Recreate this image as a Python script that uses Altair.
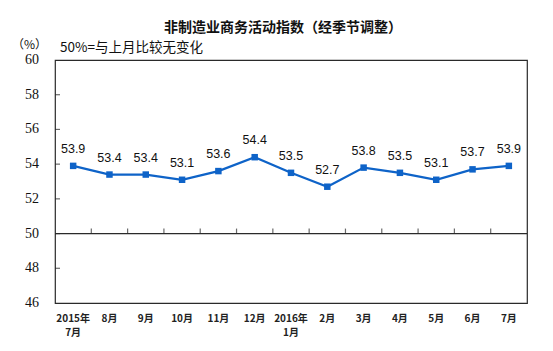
import altair as alt
import pandas as pd

months = ["2015年\n7月", "8月", "9月", "10月", "11月", "12月", "2016年\n1月",
          "2月", "3月", "4月", "5月", "6月", "7月"]
values = [53.9, 53.4, 53.4, 53.1, 53.6, 54.4, 53.5, 52.7, 53.8, 53.5, 53.1, 53.7, 53.9]
y_ticks = [46, 48, 50, 52, 54, 56, 58, 60]
boundaries = list(range(1, 13))

df = pd.DataFrame({"pos": [i + 0.5 for i in range(len(months))],
                   "value": values,
                   "month": months,
                   "label": [f"{v:.1f}" for v in values]})
ylab_df = pd.DataFrame({"y": y_ticks, "t": [str(v) for v in y_ticks]})
tick_df = pd.DataFrame({"y": y_ticks[1:-1]})
bound_df = pd.DataFrame({"b": boundaries})

W, H = 472, 243
BLUE = "#0E63C8"
DARK = "#2a2a2a"

xscale = alt.Scale(domain=[0, 13], nice=False, zero=False)
yscale = alt.Scale(domain=[46, 60], nice=False, zero=False)

base = alt.Chart(df)

line = base.mark_line(color=BLUE, strokeWidth=2.2).encode(
    x=alt.X("pos:Q", scale=xscale, axis=None),
    y=alt.Y("value:Q", scale=yscale, axis=None))
pts = base.mark_square(color=BLUE, size=42, opacity=1).encode(
    x=alt.X("pos:Q", scale=xscale, axis=None), y=alt.Y("value:Q", scale=yscale, axis=None))
txt = base.mark_text(font="Liberation Sans", fontSize=12.5, dy=-17, color="#111111",
                     baseline="middle").encode(
    x=alt.X("pos:Q", scale=xscale, axis=None), y=alt.Y("value:Q", scale=yscale, axis=None),
    text="label:N")

xlab = base.mark_text(font="Noto Sans CJK SC", fontSize=10, fontWeight="bold",
                      color="#222222", baseline="top", lineBreak="\n", lineHeight=14,
                      dy=11).encode(
    x=alt.X("pos:Q", scale=xscale, axis=None), y=alt.datum(46, scale=yscale, axis=None),
    text="month:N")
ylab = alt.Chart(ylab_df).mark_text(font="'Liberation Serif', 'DejaVu Serif', serif",
                                    fontSize=14, color="#111111",
                                    align="right", baseline="middle", dx=-16).encode(
    y=alt.Y("y:Q", scale=yscale, axis=None), x=alt.datum(0, scale=xscale, axis=None),
    text="t:N")

rule50 = alt.Chart(pd.DataFrame({"y": [50]})).mark_rule(color=DARK, strokeWidth=1.2).encode(
    y=alt.Y("y:Q", scale=yscale, axis=None))
bticks = alt.Chart(bound_df).mark_tick(orient="vertical", size=5, thickness=1.2,
                                       color=DARK, yOffset=-2.5).encode(
    x=alt.X("b:Q", scale=xscale, axis=None), y=alt.datum(50, scale=yscale, axis=None))
yt = alt.Chart(tick_df).mark_tick(orient="horizontal", size=5, thickness=1.2,
                                  color=DARK, xOffset=2.5).encode(
    y=alt.Y("y:Q", scale=yscale, axis=None), x=alt.datum(0, scale=xscale, axis=None))

title = alt.Chart(pd.DataFrame({"t": ["非制造业商务活动指数（经季节调整）"]})).mark_text(
    font="Noto Sans CJK SC", fontSize=14, fontWeight="bold", color="#111111",
    align="center", baseline="middle").encode(
    x=alt.value(228), y=alt.value(-32), text="t:N")
sub = alt.Chart(pd.DataFrame({"t": ["50%=与上月比较无变化"]})).mark_text(
    font="Noto Sans CJK SC", fontSize=13.5, color="#111111",
    align="left", baseline="middle").encode(
    x=alt.value(5), y=alt.value(-12), text="t:N")
unit = alt.Chart(pd.DataFrame({"t": ["（%）"]})).mark_text(
    font="Noto Sans CJK SC", fontSize=12, color="#111111",
    align="left", baseline="middle").encode(
    x=alt.value(-43), y=alt.value(-15), text="t:N")

chart = alt.layer(line, pts, txt, xlab, ylab, rule50, bticks, yt, title, sub, unit).properties(
    width=W, height=H,
    background="white",
    view=alt.ViewBackground(stroke=DARK, strokeWidth=1.2),
    autosize=alt.AutoSizeParams(type="none"),
    padding={"left": 55, "top": 60, "right": 26, "bottom": 48},
)

chart.save("out.html", embed_options={"renderer": "svg", "actions": False})
